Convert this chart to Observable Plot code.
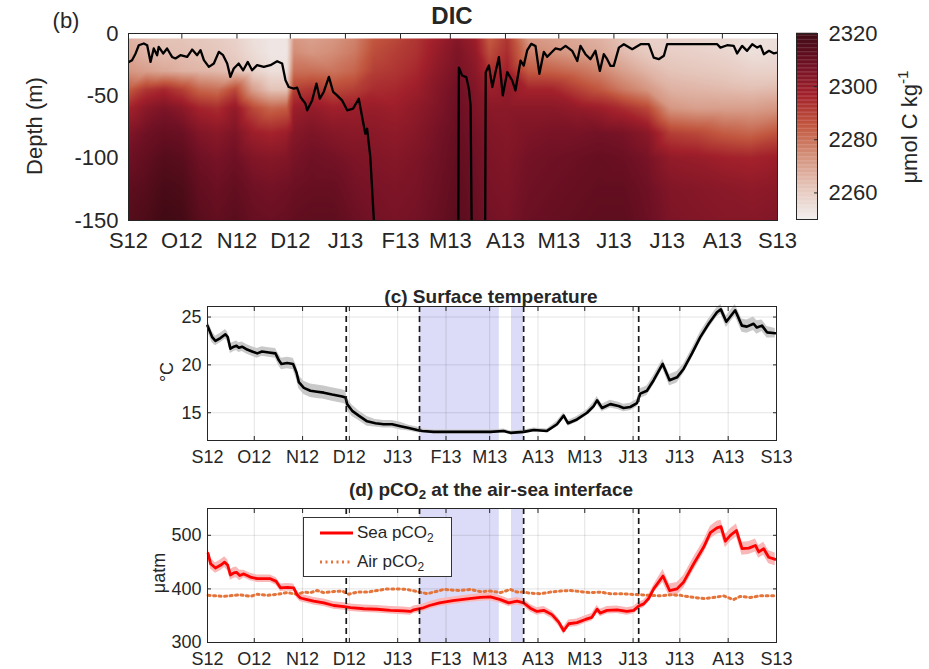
<!DOCTYPE html>
<html><head><meta charset="utf-8">
<script src="https://cdn.jsdelivr.net/npm/d3@7"></script>
<script src="https://cdn.jsdelivr.net/npm/@observablehq/plot@0.6"></script>
<style>
body{margin:0;background:#fff;}
#root{position:relative;width:929px;height:669px;overflow:hidden;font-family:"Liberation Sans",Arial,Helvetica,sans-serif;color:#262626;background:#fff;}
.lbl{position:absolute;white-space:nowrap;line-height:1;transform:translate(-50%,-50%);}
.rot{transform:translate(-50%,-50%) rotate(-90deg);}
sub{font-size:70%;vertical-align:-0.3em;line-height:0;}
sup{font-size:70%;vertical-align:0.6em;line-height:0;}
#legend{position:absolute;left:303px;top:517px;width:149px;height:60px;border:1px solid #333;background:#fff;box-sizing:border-box;font-size:17px;}
#legend .row{position:absolute;left:15px;display:flex;align-items:center;}
</style></head><body><div id="root"></div>
<script>
// ---------- shared time axis (day of record, Sep 1 2012 = 0) ----------
const monthTicks = [0,30,61,91,122,153,181,212,242,273,303,334,365];
const monthLabels = ["S12","O12","N12","D12","J13","F13","M13","A13","M13","J13","J13","A13","S13"];

// ---------- (b) DIC section ----------
const dicDays = [0,10,20,30,40,50,60,70,80,89,93,103,115,127,138,150,162,175,185,195,203,213,225,238,252,265,278,292,305,320,335,350,365];
const dicDepths = [-4,-15,-30,-45,-60,-80,-100,-125,-150];
const dicRows = [
  [2266,2264,2262,2262,2261,2260,2258,2254,2252,2252,2272,2270,2272,2276,2285,2288,2292,2298,2303,2298,2284,2292,2272,2270,2268,2266,2262,2258,2258,2257,2256,2253,2254],
  [2268,2265,2263,2263,2262,2261,2259,2255,2252,2252,2274,2272,2274,2278,2287,2290,2293,2300,2305,2300,2287,2294,2276,2273,2270,2268,2264,2260,2259,2258,2257,2254,2255],
  [2272,2270,2268,2266,2265,2264,2262,2258,2254,2254,2280,2280,2279,2282,2290,2292,2295,2302,2306,2302,2293,2297,2284,2283,2280,2276,2270,2265,2262,2261,2260,2258,2258],
  [2284,2292,2295,2290,2282,2280,2288,2270,2262,2262,2290,2292,2288,2290,2294,2295,2298,2304,2308,2304,2298,2300,2296,2296,2290,2285,2278,2272,2266,2265,2264,2263,2264],
  [2296,2302,2305,2302,2296,2294,2300,2288,2282,2284,2298,2300,2297,2298,2299,2298,2301,2305,2309,2305,2302,2302,2302,2302,2300,2298,2294,2288,2272,2270,2270,2270,2272],
  [2304,2308,2310,2309,2304,2302,2305,2298,2296,2298,2303,2305,2303,2302,2302,2301,2303,2307,2310,2307,2304,2303,2305,2306,2306,2307,2306,2302,2290,2288,2284,2282,2286],
  [2308,2311,2314,2313,2308,2306,2308,2304,2303,2304,2306,2308,2307,2305,2304,2303,2305,2308,2311,2308,2305,2304,2307,2308,2309,2310,2309,2306,2300,2299,2297,2296,2298],
  [2312,2314,2317,2316,2311,2309,2311,2308,2307,2308,2309,2310,2310,2307,2306,2305,2306,2309,2312,2309,2306,2305,2308,2309,2310,2311,2311,2308,2304,2303,2302,2301,2302],
  [2314,2316,2319,2318,2313,2311,2313,2310,2309,2310,2311,2312,2312,2309,2307,2306,2307,2310,2313,2310,2307,2306,2309,2310,2311,2312,2312,2309,2305,2304,2303,2303,2304]
];
const dicColors = ["#f1edec","#e5c5ba","#d4917b","#c2573f","#a2202b","#6e1024","#3c0912"];
const dicTicks = [2260,2280,2300,2320];

// mixed-layer depth (black line), NaN = gap
const mldDay = [0.2,2,4,5.8,8.6,10.5,12.4,14.2,16.1,17,19.5,21.7,24.5,26.4,29.2,33,35.8,38.6,40.5,42.4,45.2,48,50.8,53.2,55.5,57.3,59.2,62,64.5,67.1,69.5,72.3,76.1,79.8,83.6,86.4,88.3,90.1,93,94.8,96.7,99.5,100.5,103.3,105.7,107.6,109.8,112.7,115.1,117.3,120.1,123,126.3,129.5,131.4,133.2,134.2,136,138.2,160,185.5,185.8,187.6,190,191.5,192.4,193,197,200.6,200.9,202.7,204.6,206.4,208.3,210.5,213,215.8,217.6,220.5,222.3,224.2,226.5,228.9,231.1,233.6,235.5,237.3,240.1,243,245.8,249.5,252.4,254.2,257,259.8,262.6,265.1,267.3,269.2,271.1,272.9,275.8,278.6,283.3,288,292.6,295.4,298.2,301.1,302.9,316,331.1,332.9,336.7,340.4,342.3,345.1,347.9,350.8,353.6,355.5,357.3,360.2,363,364.9];
const mldDepth = [-22.8,-21.4,-16,-9.4,-8,-9.4,-22.8,-12,-17.4,-10.7,-16,-12,-18.8,-20,-17.4,-18.8,-12.9,-17.4,-13.4,-21.4,-26.8,-24.1,-14.7,-17.4,-24.1,-34.8,-28.1,-24.1,-29.5,-22.8,-29.5,-25.4,-26.8,-25.4,-22.2,-24.1,-37.5,-42.9,-44.2,-43.4,-50.9,-56.3,-61.6,-53.6,-40.2,-52.3,-46.9,-34.8,-46.9,-49.6,-53.6,-61.6,-60.3,-52.3,-67,-80.4,-76.4,-99.1,-155,NaN,-155,-27.3,-33.7,-35,-45,-57.8,-155,NaN,-155,-31,-25.7,-43,-31,-19,-49.7,-31,-37.7,-45.7,-21.7,-25.7,-13.6,-8.3,-10,-32.3,-14.7,-18.7,-16,-12,-13,-9.9,-13.9,-22,-9.9,-16.6,-20.6,-13.9,-30,-16.6,-20.6,-26,-26,-11.3,-8.6,-12.6,-8.6,-8.6,-19.3,-20.6,-17.9,-8.6,-8.6,-8.6,-11.3,-9.4,-9.9,-16,-9.9,-13.9,-8.6,-11.3,-9.9,-16.6,-13.9,-16,-15.3];

// ---------- (c) surface temperature ----------
const tempDay = [0,3,5.1,8.3,11.5,13,14.7,16.9,18.6,20.1,22.2,25.4,28.6,31.9,35,39.3,43.6,45.7,47.4,51.1,54.9,57.1,58.6,61.8,66,70.3,74.6,79.9,86.4,88.5,89.6,92.8,97,102.4,107.7,113,118.4,123.8,129.1,134.5,137.7,145.1,155.8,168.6,181.5,190,194.3,202.8,209.3,217.8,224.2,228.5,231.3,237,243.5,247.7,249.9,253.1,258.4,263.7,266.9,271.2,275.5,277.6,281.9,286.2,292,296.4,301.2,305.5,310.8,316.1,321.5,326.8,329.3,332.8,338.5,342.8,346,350.3,352.4,355.7,358.9,364.2];
const tempVal = [24.1,22.9,22.5,22.8,23.2,22.9,21.7,21.9,22.0,21.8,21.9,21.6,21.4,21.2,21.4,21.3,21.2,20.5,20.1,20.2,20.1,19.2,18.2,17.6,17.3,17.2,17.1,16.9,16.7,16.6,15.9,15.2,14.7,14.1,13.9,13.8,13.8,13.6,13.4,13.2,13.1,13.0,13.0,13.0,13.0,13.1,12.9,13.0,13.2,13.1,13.8,14.7,13.9,14.3,15.0,15.7,16.3,15.5,15.9,15.7,15.5,15.6,16.0,17.0,17.3,18.4,20.1,18.4,18.7,19.6,21.2,22.9,24.3,25.5,25.8,24.5,25.7,24.1,24.0,24.3,23.9,24.1,23.4,23.3];
const tempErr = [0.6,0.6,0.5,0.5,0.5,0.5,0.5,0.5,0.5,0.5,0.5,0.5,0.5,0.5,0.5,0.5,0.5,0.6,0.6,0.6,0.6,0.7,0.7,0.7,0.7,0.7,0.7,0.7,0.7,0.7,0.6,0.6,0.5,0.5,0.4,0.4,0.4,0.4,0.3,0.3,0.2,0.2,0.2,0.2,0.2,0.2,0.2,0.2,0.2,0.2,0.3,0.3,0.3,0.3,0.3,0.4,0.4,0.4,0.4,0.4,0.4,0.4,0.4,0.5,0.5,0.5,0.5,0.6,0.6,0.5,0.5,0.5,0.5,0.5,0.5,0.6,0.6,0.7,0.7,0.7,0.7,0.6,0.6,0.5];
const tempTicks = [15,20,25];

// ---------- (d) pCO2 ----------
const seaDay = [0.4,2,5.1,8.3,11,13,14.7,16.9,18.6,20.7,23.3,27.5,31.9,36.1,40.3,44.1,46.8,51.1,55.3,57.5,59.6,63.9,68.1,74.6,81,87.5,91.7,100.3,108.8,117.4,125.9,130.2,132.3,137.7,142.4,148.8,157.4,168,175,181.5,187.9,193.2,198.6,202.8,207.1,211.4,215.7,221,225.3,228.5,231.7,237,242.4,246.6,249.9,252,256.3,262.7,269.1,273.4,276.6,279.8,283,286.2,292.2,296.4,301.2,305.5,311.9,318.3,322.6,326.8,329.4,332.2,335.4,339.3,342.9,347.2,351.5,353.6,356.8,360,364.2];
const seaVal = [466,447,439,444,450,444,426,430,431,425,428,422,419,419,419,414,402,403,402,389,383,380,377,374,369,367,365,363,362,360,359,358,361,364,369,374,378,382,384,385,380,374,377,374,364,358,360,352,338,322,335,337,343,347,362,355,360,361,358,360,368,372,382,400,424,397,400,413,447,478,505,514,516,489,500,509,475,476,481,469,475,459,455];
const seaErr = [10,10,10,10,10,10,10,10,10,10,7,7,7,7,7,7,7,7,7,7,7,7,7,7,7,7,7,7,7,7,7,7,7,7,7,7,7,7,7,7,7,7,7,7,7,7,7,7,7,7,7,7,7,7,7,7,7,7,7,7,7,7,7,7,12,12,12,12,12,12,12,12,12,12,12,12,12,12,12,12,12,12,12];
const airDay = [0.4,10.4,21.1,27.5,31.9,38.2,44.7,51.1,57.5,61.8,66,70.3,74.6,81,86.4,90.6,96,102.4,108.8,115.2,121.6,128,134.5,140.9,145.2,151.6,155.8,162.2,168.6,175,181.5,187.9,194.3,198.6,202.8,207.1,213.5,219.9,226.3,232.7,239.1,245.6,252,258.4,264.8,271.2,277.6,284,290.4,296.8,303.3,309.7,318.2,324.6,331,337.4,341.7,348.1,354.5,364.2];
const airVal = [388,386,389,386,390,388,390,393,390,394,393,397,393,395,396,390,394,394,397,400,400,399,395,391,394,399,398,397,399,395,396,393,399,394,394,392,391,394,396,397,395,393,394,391,391,390,389,388,387,389,388,385,382,384,387,380,386,384,387,387];
const pco2Ticks = [300,400,500];

// shaded periods and dashed markers (days)
const shadeStart = [136,195];
const shadeEnd = [187.2,202.8];
const dashDays = [89,136,202.8,276.6];

// ---------- build tables ----------
const dicPoints = dicDepths.flatMap((z,i) => dicDays.map((d,j) => ({day:d, depth:z, v:dicRows[i][j]})));
const mldPoints = mldDay.map((d,i) => ({day:d, depth:mldDepth[i]}));
const tempData = tempDay.map((d,i) => ({day:d, v:tempVal[i], e:tempErr[i]}));
const seaData = seaDay.map((d,i) => ({day:d, v:seaVal[i], e:seaErr[i]}));
const airData = airDay.map((d,i) => ({day:d, v:airVal[i]}));
const shades = shadeStart.map((s,i) => ({start:s, end:shadeEnd[i]}));

const FONT = '"Liberation Sans", Arial, Helvetica, sans-serif';
const INK = "#262626";
const fmtMonth = d => monthLabels[monthTicks.indexOf(d)];
const dicColor = {type:"linear", domain:[2250,2320], interpolate:d3.piecewise(d3.interpolateRgb, dicColors), clamp:true};

const root = document.getElementById("root");
function place(el, left, top) {
  el.style.position = "absolute"; el.style.left = left + "px"; el.style.top = top + "px";
  root.appendChild(el);
}
function label(html, x, y, size, extra = "", rot = false) {
  const d = document.createElement("div");
  d.className = "lbl" + (rot ? " rot" : "");
  d.style.left = x + "px"; d.style.top = y + "px"; d.style.fontSize = size + "px";
  d.style.cssText += extra;
  d.innerHTML = html;
  root.appendChild(d);
}

// ---------- panel (b) ----------
const pb = Plot.plot({
  width: 790, height: 260, marginLeft: 128, marginRight: 13, marginTop: 33, marginBottom: 40,
  style: {fontFamily: FONT, fontSize: "22px", color: INK, background: "transparent", overflow: "visible"},
  x: {domain: [0, 365], label: null},
  y: {domain: [-150, 0], label: null},
  color: dicColor,
  marks: [
    Plot.axisX(monthTicks, {anchor: "top", tickSize: -5, tickFormat: () => "", label: null, stroke: INK}),
    Plot.raster(dicPoints, {x: "day", y: "depth", fill: "v", interpolate: "barycentric", x1: 0, x2: 365, y1: -150, y2: -4}),
    Plot.line(mldPoints, {x: "day", y: "depth", stroke: "#000", strokeWidth: 2.3, clip: true}),
    Plot.frame({stroke: INK, strokeWidth: 1}),
    Plot.axisX(monthTicks, {anchor: "bottom", tickSize: 0, tickPadding: 12, tickFormat: fmtMonth, label: null}),
    Plot.axisY([0, -50, -100, -150], {anchor: "left", tickSize: 0, tickPadding: 10, tickFormat: d => String(d), label: null})
  ]
});
place(pb, 0, 0);

// colorbar
const cbSteps = d3.range(2250, 2320, 0.5);
const cb = Plot.plot({
  width: 149, height: 260, marginLeft: 16, marginRight: 112, marginTop: 33, marginBottom: 41,
  style: {fontFamily: FONT, fontSize: "22px", color: INK, background: "transparent", overflow: "visible"},
  x: {domain: [0, 1], axis: null},
  y: {domain: [2250, 2320], label: null},
  color: dicColor,
  marks: [
    Plot.rect(cbSteps, {x1: 0, x2: 1, y1: d => d, y2: d => d + 0.6, fill: d => d}),
    Plot.frame({stroke: INK}),
    Plot.axisY(dicTicks, {anchor: "right", tickSize: -4, tickFormat: () => "", label: null}),
    Plot.axisY(dicTicks, {anchor: "right", tickSize: 0, tickPadding: 11, tickFormat: d => String(d), label: null})
  ]
});
place(cb, 780, 0);

// ---------- panels (c) and (d) ----------
function framedPanel(yDomain, yTicks, height, marginBottom, dataMarks) {
  return Plot.plot({
    width: 800, height, marginLeft: 207, marginRight: 24, marginTop: 16, marginBottom,
    style: {fontFamily: FONT, fontSize: "18px", color: INK, background: "transparent", overflow: "visible"},
    x: {domain: [0, 365], label: null},
    y: {domain: yDomain, label: null},
    marks: [
      Plot.rect(shades, {x1: "start", x2: "end", fill: "#dcdcf8"}),
      Plot.gridX(monthTicks, {stroke: "#000", strokeOpacity: 0.11}),
      Plot.gridY(yTicks, {stroke: "#000", strokeOpacity: 0.11}),
      ...dataMarks,
      Plot.ruleX(dashDays, {stroke: "#1a1a1a", strokeWidth: 1.7, strokeDasharray: "6,4"}),
      Plot.frame({stroke: INK}),
      Plot.axisX(monthTicks, {anchor: "bottom", tickSize: -4, tickFormat: () => "", label: null}),
      Plot.axisX(monthTicks, {anchor: "top", tickSize: -4, tickFormat: () => "", label: null}),
      Plot.axisY(yTicks, {anchor: "left", tickSize: -4, tickFormat: () => "", label: null}),
      Plot.axisY(yTicks, {anchor: "right", tickSize: -4, tickFormat: () => "", label: null}),
      Plot.axisX(monthTicks, {anchor: "bottom", tickSize: 0, tickPadding: 10, tickFormat: fmtMonth, label: null}),
      Plot.axisY(yTicks, {anchor: "left", tickSize: 0, tickPadding: 6, tickFormat: d => String(d), label: null})
    ]
  });
}

const pc = framedPanel([12.1, 26.1], tempTicks, 190, 40, [
  Plot.areaY(tempData, {x: "day", y1: d => d.v - d.e, y2: d => d.v + d.e, fill: "#c9c9c9"}),
  Plot.line(tempData, {x: "day", y: "v", stroke: "#000", strokeWidth: 2.6})
]);
place(pc, 0, 290);

const pd = framedPanel([300, 550], pco2Ticks, 177, 27, [
  Plot.areaY(seaData, {x: "day", y1: d => d.v - d.e, y2: d => d.v + d.e, fill: "#f9b7b7"}),
  Plot.line(airData, {x: "day", y: "v", stroke: "#e5743a", strokeWidth: 3, strokeDasharray: "2,3.5"}),
  Plot.line(seaData, {x: "day", y: "v", stroke: "#ff0000", strokeWidth: 2.8})
]);
place(pd, 0, 492);

// ---------- text ----------
label("(b)", 66, 21, 22);
label("DIC", 452, 16, 24, "font-weight:bold;");
label("Depth (m)", 35, 126, 22, "", true);
label("μmol C kg<sup>-1</sup>", 910, 127, 22, "", true);
label("(c) Surface temperature", 491, 296, 19, "font-weight:bold;");
label("°C", 167, 372, 18, "", true);
label("(d) pCO<sub>2</sub> at the air-sea interface", 491, 489, 19, "font-weight:bold;");
label("μatm", 159, 573, 18, "", true);

// legend
const lg = document.createElement("div");
lg.id = "legend";
lg.innerHTML =
  '<div class="row" style="top:4px"><svg width="36" height="22"><line x1="1" y1="11" x2="34" y2="11" stroke="#ff0000" stroke-width="3"/></svg><span style="margin-left:2px">Sea pCO<sub>2</sub></span></div>' +
  '<div class="row" style="top:33px"><svg width="36" height="22"><line x1="1" y1="11" x2="34" y2="11" stroke="#e5743a" stroke-width="3" stroke-dasharray="2,3.5"/></svg><span style="margin-left:2px">Air pCO<sub>2</sub></span></div>';
root.appendChild(lg);
</script>
</body></html>
